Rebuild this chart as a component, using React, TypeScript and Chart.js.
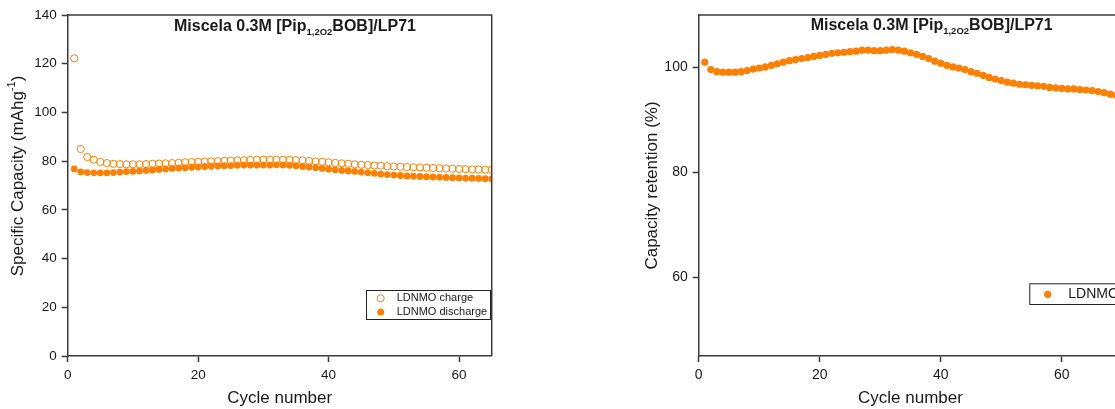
import React, { useEffect, useRef } from 'react';
import { Chart, registerables } from 'chart.js';

Chart.register(...registerables);

// ---------------- DATA ----------------
const cycles = [
  1, 2, 3, 4, 5, 6, 7, 8, 9, 10, 11, 12, 13, 14, 15, 16, 17, 18, 19, 20,
  21, 22, 23, 24, 25, 26, 27, 28, 29, 30, 31, 32, 33, 34, 35, 36, 37, 38, 39, 40,
  41, 42, 43, 44, 45, 46, 47, 48, 49, 50, 51, 52, 53, 54, 55, 56, 57, 58, 59, 60,
  61, 62, 63, 64, 65,
];

const chargeCapacity = [
  122.2, 85.0, 81.7, 80.6, 79.7, 79.2, 78.9, 78.8, 78.7, 78.7,
  78.7, 78.8, 78.9, 79.0, 79.1, 79.2, 79.3, 79.5, 79.6, 79.7,
  79.8, 79.9, 80.0, 80.1, 80.2, 80.3, 80.4, 80.5, 80.6, 80.6,
  80.6, 80.6, 80.6, 80.5, 80.4, 80.3, 80.1, 79.9, 79.7, 79.5,
  79.3, 79.1, 78.9, 78.7, 78.5, 78.4, 78.2, 78.1, 77.9, 77.8,
  77.7, 77.6, 77.5, 77.4, 77.3, 77.2, 77.1, 77.0, 76.9, 76.8,
  76.7, 76.6, 76.6, 76.5, 76.4,
];

const dischargeCapacity = [
  76.8, 75.6, 75.3, 75.2, 75.2, 75.2, 75.3, 75.5, 75.7, 75.8,
  76.0, 76.2, 76.4, 76.6, 76.8, 77.0, 77.2, 77.3, 77.5, 77.6,
  77.8, 77.9, 78.0, 78.1, 78.2, 78.3, 78.4, 78.4, 78.4, 78.4,
  78.4, 78.5, 78.4, 78.3, 78.1, 77.8, 77.6, 77.3, 77.0, 76.7,
  76.5, 76.2, 76.0, 75.8, 75.5, 75.2, 75.0, 74.7, 74.5, 74.3,
  74.1, 73.9, 73.8, 73.7, 73.6, 73.5, 73.4, 73.3, 73.2, 73.1,
  73.0, 73.0, 72.9, 72.8, 72.7,
];

const retentionCycles = [
  1, 2, 3, 4, 5, 6, 7, 8, 9, 10, 11, 12, 13, 14, 15, 16, 17, 18, 19, 20,
  21, 22, 23, 24, 25, 26, 27, 28, 29, 30, 31, 32, 33, 34, 35, 36, 37, 38, 39, 40,
  41, 42, 43, 44, 45, 46, 47, 48, 49, 50, 51, 52, 53, 54, 55, 56, 57, 58, 59, 60,
  61, 62, 63, 64, 65, 66, 67, 68, 69, 70,
];

const retention = [
  101.0, 99.6, 99.2, 99.1, 99.1, 99.1, 99.2, 99.4, 99.7, 99.9,
  100.1, 100.4, 100.7, 101.0, 101.3, 101.5, 101.7, 101.9, 102.1, 102.3,
  102.5, 102.7, 102.8, 102.9, 103.0, 103.1, 103.3, 103.3, 103.2, 103.2,
  103.3, 103.4, 103.3, 103.1, 102.8, 102.5, 102.1, 101.7, 101.2, 100.8,
  100.4, 100.1, 99.9, 99.6, 99.2, 98.9, 98.5, 98.1, 97.8, 97.5,
  97.2, 97.0, 96.8, 96.7, 96.6, 96.5, 96.4, 96.2, 96.1, 96.0,
  95.9, 95.9, 95.8, 95.7, 95.6, 95.4, 95.2, 94.9, 94.7, 94.5,
];

const capacityTicks = [0, 20, 40, 60, 80, 100, 120, 140];
const cycleTicks = [0, 20, 40, 60];
const retentionTicks = [60, 80, 100];

const chargeLabel = 'LDNMO charge';
const dischargeLabel = 'LDNMO discharge';
const retentionLabel = 'LDNMO discharge';
const xTitle = 'Cycle number';
const retentionTitle = 'Capacity retention (%)';

// ---------------- STYLE ----------------
const FONT = '"Liberation Sans", Arial, Helvetica, sans-serif';
const ORANGE = '#FF8000';
const AXIS = '#3a3a3a';
const TEXT = '#1a1a1a';

type Part = { t: string; size: number; bold?: boolean; dy?: number };

const titleParts: Part[] = [
  { t: 'Miscela 0.3M [Pip', size: 16, bold: true },
  { t: '1,2O2', size: 9.5, bold: true, dy: 4 },
  { t: 'BOB]/LP71', size: 16, bold: true },
];

const leftYTitleParts: Part[] = [
  { t: 'Specific Capacity (mAhg', size: 17 },
  { t: '-1', size: 11, dy: -6 },
  { t: ')', size: 17 },
];

function setFont(ctx: CanvasRenderingContext2D, p: Part) {
  ctx.font = `${p.bold ? 'bold ' : ''}${p.size}px ${FONT}`;
}

function partsWidth(ctx: CanvasRenderingContext2D, parts: Part[]) {
  let w = 0;
  for (const p of parts) {
    setFont(ctx, p);
    w += ctx.measureText(p.t).width;
  }
  return w;
}

function drawParts(ctx: CanvasRenderingContext2D, parts: Part[], x: number, y: number) {
  let cx = x;
  for (const p of parts) {
    setFont(ctx, p);
    ctx.fillText(p.t, cx, y + (p.dy || 0));
    cx += ctx.measureText(p.t).width;
  }
}

type LegendItem = { label: string; filled: boolean; y: number };
type OverlayOpts = {
  titleX: number;
  titleY: number;
  legendBox: [number, number, number, number];
  legendItems: LegendItem[];
  legendMarkerX: number;
  legendTextX: number;
  legendFont: number;
  legendR: number;
  yTitle?: { x: number; y: number; parts: Part[] };
};

function overlayPlugin(o: OverlayOpts) {
  return {
    id: 'overlay',
    afterDraw(chart: any) {
      const ctx: CanvasRenderingContext2D = chart.ctx;
      const a = chart.chartArea;
      ctx.save();
      // frame (top and right)
      ctx.strokeStyle = AXIS;
      ctx.lineWidth = 1.5;
      ctx.beginPath();
      ctx.moveTo(a.left, a.top);
      ctx.lineTo(a.right, a.top);
      ctx.lineTo(a.right, a.bottom);
      ctx.stroke();

      // title
      ctx.fillStyle = TEXT;
      ctx.textBaseline = 'alphabetic';
      ctx.textAlign = 'left';
      drawParts(ctx, titleParts, o.titleX, o.titleY);

      // legend
      const [bx, by, bw, bh] = o.legendBox;
      ctx.strokeStyle = '#222';
      ctx.lineWidth = 1;
      ctx.strokeRect(bx + 0.5, by + 0.5, bw, bh);
      ctx.textBaseline = 'middle';
      ctx.font = `${o.legendFont}px ${FONT}`;
      for (const it of o.legendItems) {
        ctx.beginPath();
        ctx.arc(o.legendMarkerX, it.y, o.legendR, 0, Math.PI * 2);
        if (it.filled) {
          ctx.fillStyle = ORANGE;
          ctx.fill();
        } else {
          ctx.strokeStyle = ORANGE;
          ctx.lineWidth = 1;
          ctx.stroke();
        }
        ctx.fillStyle = TEXT;
        ctx.fillText(it.label, o.legendTextX, it.y);
      }

      // custom y title
      if (o.yTitle) {
        ctx.translate(o.yTitle.x, o.yTitle.y);
        ctx.rotate(-Math.PI / 2);
        ctx.textBaseline = 'middle';
        ctx.fillStyle = TEXT;
        const w = partsWidth(ctx, o.yTitle.parts);
        drawParts(ctx, o.yTitle.parts, -w / 2, 0);
      }
      ctx.restore();
    },
  };
}

function linearAxis(
  min: number,
  max: number,
  ticks: number[],
  fontSize: number,
  fit: (s: any) => void,
  title?: { text: string; padding: any }
) {
  return {
    type: 'linear',
    min,
    max,
    afterBuildTicks: (s: any) => {
      s.ticks = ticks.map((v) => ({ value: v }));
    },
    afterFit: fit,
    ticks: {
      font: { family: FONT, size: fontSize },
      color: TEXT,
      padding: 5,
      maxRotation: 0,
    },
    grid: {
      display: true,
      drawOnChartArea: false,
      drawTicks: true,
      tickLength: 6,
      tickWidth: 1.5,
      color: AXIS,
    },
    border: { display: true, color: AXIS, width: 1.5 },
    title: title
      ? {
          display: true,
          text: title.text,
          color: TEXT,
          font: { family: FONT, size: 17 },
          padding: title.padding,
        }
      : { display: false },
  };
}

function toPoints(xs: number[], ys: number[]) {
  return ys.map((y, i) => ({ x: xs[i], y }));
}

function CapacityChart() {
  const ref = useRef<HTMLCanvasElement>(null);
  useEffect(() => {
    if (!ref.current) return;
    const chart = new Chart(ref.current, {
      type: 'scatter',
      data: {
        datasets: [
          {
            label: chargeLabel,
            data: toPoints(cycles, chargeCapacity),
            pointRadius: 3.6,
            pointBorderWidth: 1,
            borderColor: ORANGE,
            backgroundColor: 'rgba(0,0,0,0)',
            showLine: false,
          },
          {
            label: dischargeLabel,
            data: toPoints(cycles, dischargeCapacity),
            pointRadius: 3.4,
            pointBorderWidth: 0,
            borderColor: ORANGE,
            backgroundColor: ORANGE,
            showLine: false,
          },
        ],
      },
      options: {
        responsive: false,
        animation: false,
        events: [],
        layout: { padding: { left: 0, top: 15, right: 65.3, bottom: 0 } },
        plugins: { legend: { display: false }, tooltip: { enabled: false } },
        scales: {
          x: linearAxis(0, 65, cycleTicks, 13.5, (s: any) => { s.height = 53; }, {
            text: xTitle,
            padding: { top: 0, bottom: 0 },
          }),
          y: linearAxis(0, 140, capacityTicks, 13.5, (s: any) => { s.width = 67.7; }),
        },
      } as any,
      plugins: [
        overlayPlugin({
          titleX: 174,
          titleY: 31,
          legendBox: [366, 290, 124, 29],
          legendItems: [
            { label: chargeLabel, filled: false, y: 298.3 },
            { label: dischargeLabel, filled: true, y: 312 },
          ],
          legendMarkerX: 380.7,
          legendTextX: 396.7,
          legendFont: 11,
          legendR: 3.5,
          yTitle: { x: 18, y: 176, parts: leftYTitleParts },
        }),
      ],
    });
    return () => chart.destroy();
  }, []);
  return <canvas ref={ref} width={557} height={409} style={{ display: 'block' }} />;
}

function RetentionChart() {
  const ref = useRef<HTMLCanvasElement>(null);
  useEffect(() => {
    if (!ref.current) return;
    const chart = new Chart(ref.current, {
      type: 'scatter',
      data: {
        datasets: [
          {
            label: retentionLabel,
            data: toPoints(retentionCycles, retention),
            pointRadius: 3.6,
            pointBorderWidth: 0,
            borderColor: ORANGE,
            backgroundColor: ORANGE,
            showLine: false,
          },
        ],
      },
      options: {
        responsive: false,
        animation: false,
        events: [],
        layout: { padding: { left: 0, top: 15, right: 34.7, bottom: 0 } },
        plugins: { legend: { display: false }, tooltip: { enabled: false } },
        scales: {
          x: linearAxis(0, 70, cycleTicks, 14, (s: any) => { s.height = 53; }, {
            text: xTitle,
            padding: { top: 0, bottom: 0 },
          }),
          y: linearAxis(45, 110, retentionTicks, 14, (s: any) => { s.width = 141.7; }, {
            text: retentionTitle,
            padding: { top: 85, bottom: 0 },
          }),
        },
      } as any,
      plugins: [
        overlayPlugin({
          titleX: 253.7,
          titleY: 30,
          legendBox: [472.3, 283.3, 200, 20.7],
          legendItems: [{ label: retentionLabel, filled: true, y: 294.3 }],
          legendMarkerX: 490.7,
          legendTextX: 511.3,
          legendFont: 14,
          legendR: 3.6,
        }),
      ],
    });
    return () => chart.destroy();
  }, []);
  return <canvas ref={ref} width={600} height={409} style={{ display: 'block' }} />;
}

export default function App() {
  return (
    <div
      style={{
        position: 'fixed',
        left: 0,
        top: 0,
        width: 1115,
        height: 409,
        overflow: 'hidden',
        background: '#fff',
      }}
    >
      <div style={{ position: 'absolute', left: 0, top: 0 }}>
        <CapacityChart />
      </div>
      <div style={{ position: 'absolute', left: 557, top: 0 }}>
        <RetentionChart />
      </div>
    </div>
  );
}
